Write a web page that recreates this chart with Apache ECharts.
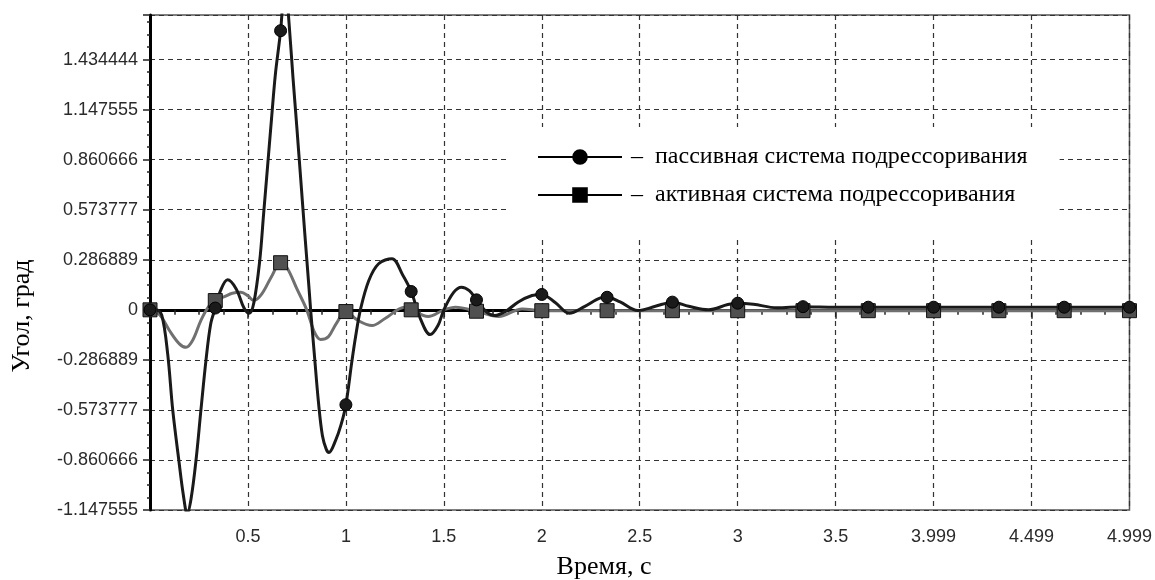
<!DOCTYPE html>
<html><head><meta charset="utf-8">
<script src="https://cdn.jsdelivr.net/npm/echarts@6/dist/echarts.min.js"></script>
<style>html,body{margin:0;padding:0;background:#fff}#c{width:1155px;height:580px}</style>
</head><body><div id="c"></div>
<script>
// ---- data ----
const seriesNames = ['пассивная система подрессоривания', 'активная система подрессоривания'];
const passiveT = [0, 0.03, 0.06, 0.09, 0.116, 0.147, 0.17, 0.19, 0.21, 0.235, 0.26, 0.286, 0.31, 0.3333, 0.36, 0.396, 0.44, 0.48, 0.506, 0.53, 0.56, 0.58, 0.60, 0.62, 0.64, 0.6667, 0.69, 0.71, 0.73, 0.75, 0.77, 0.79, 0.81, 0.82, 0.84, 0.86, 0.88, 0.90, 0.913, 0.947, 0.975, 1.0, 1.03, 1.05, 1.074, 1.117, 1.167, 1.235, 1.29, 1.3333, 1.38, 1.43, 1.47, 1.5, 1.55, 1.59, 1.63, 1.6667, 1.72, 1.76, 1.82, 1.88, 1.95, 2.0, 2.07, 2.14, 2.22, 2.3, 2.3333, 2.4, 2.49, 2.58, 2.6667, 2.75, 2.85, 2.95, 3.0, 3.08, 3.2, 3.3333, 3.5, 3.6667, 4.0, 4.3333, 4.6667, 5.0];
const passiveV = [0, 0.0, -0.03, -0.25, -0.574, -0.861, -1.06, -1.17, -1.08, -0.861, -0.574, -0.287, -0.08, 0.01, 0.11, 0.172, 0.12, 0.01, -0.02, 0.04, 0.28, 0.55, 0.82, 1.09, 1.35, 1.60, 1.90, 1.64, 1.33, 1.04, 0.74, 0.44, 0.15, 0.0, -0.27, -0.53, -0.72, -0.80, -0.818, -0.75, -0.66, -0.544, -0.30, -0.15, 0.0, 0.168, 0.264, 0.293, 0.20, 0.105, -0.05, -0.142, -0.09, 0.0, 0.10, 0.13, 0.11, 0.057, -0.015, -0.033, -0.005, 0.045, 0.082, 0.088, 0.04, -0.02, 0.02, 0.068, 0.072, 0.045, -0.004, 0.02, 0.044, 0.02, 0.0, 0.03, 0.038, 0.032, 0.012, 0.018, 0.015, 0.015, 0.015, 0.015, 0.015, 0.015];
const activeT = [0, 0.05, 0.10, 0.15, 0.184, 0.22, 0.26, 0.30, 0.3333, 0.38, 0.42, 0.464, 0.50, 0.53, 0.57, 0.62, 0.6667, 0.70, 0.75, 0.80, 0.84, 0.87, 0.91, 0.95, 1.0, 1.06, 1.133, 1.2, 1.30, 1.3333, 1.42, 1.5, 1.56, 1.6667, 1.78, 1.9, 2.0, 2.3333, 2.6667, 3.0, 3.3333, 3.6667, 4.0, 4.3333, 4.6667, 5.0];
const activeV = [0, -0.03, -0.12, -0.195, -0.215, -0.17, -0.06, 0.02, 0.053, 0.075, 0.095, 0.10, 0.08, 0.053, 0.09, 0.19, 0.270, 0.24, 0.12, 0.0, -0.13, -0.17, -0.155, -0.08, -0.01, -0.06, -0.09, -0.05, 0.015, 0.0, -0.038, 0.0, 0.015, -0.008, -0.038, 0.005, -0.005, -0.005, -0.005, -0.005, -0.005, -0.005, -0.005, -0.005, -0.005, -0.005];
const yTickLabels = ['-1.147555', '-0.860666', '-0.573777', '-0.286889', '0', '0.286889', '0.573777', '0.860666', '1.147555', '1.434444'];
const xTickLabels = ['', '0.5', '1', '1.5', '2', '2.5', '3', '3.5', '3.999', '4.499', '4.999'];
const yAxisTitle = 'Угол, град';
const xAxisTitle = 'Время, с';

// ---- chart ----
const yStep = 0.286889, yMin = -4 * yStep, yMax = 1.69;
const xStep = 0.5, xMin = 0, xMax = 5;
function isMarker(t) { const k = t * 3; return Math.abs(k - Math.round(k)) < 0.002; }
function buildData(ts, vs) {
  return ts.map((t, i) => isMarker(t) ? { value: [t, vs[i]] } : { value: [t, vs[i]], symbol: 'none' });
}
const chart = echarts.init(document.getElementById('c'), null, { renderer: 'canvas' });
const gridLine = { show: true, lineStyle: { color: '#333', type: [5, 4], width: 1.2 } };
chart.setOption({
  animation: false,
  backgroundColor: '#fff',
  grid: { left: 150, right: 23, top: 15, bottom: 70, show: true, borderColor: '#555', borderWidth: 1.5, backgroundColor: 'transparent' },
  xAxis: {
    type: 'value', min: xMin, max: xMax, interval: xStep,
    axisLine: { show: true, lineStyle: { color: '#000', width: 3 } },
    axisTick: { show: true, length: 9, lineStyle: { color: '#222', width: 1.5 } },
    minorTick: { show: true, splitNumber: 4, length: 5, lineStyle: { color: '#222', width: 1.5 } },
    splitLine: gridLine,
    axisLabel: { margin: 18, fontFamily: 'Liberation Sans', fontSize: 18, color: '#2a2a2a',
      formatter: v => { const i = Math.round((v - xMin) / xStep); return Math.abs(v - (xMin + i * xStep)) < 1e-6 ? (xTickLabels[i] || '') : ''; } }
  },
  yAxis: {
    type: 'value', min: yMin, max: yMax, interval: yStep,
    axisLine: { show: true, lineStyle: { color: '#000', width: 3 } },
    axisTick: { show: true, length: 7, lineStyle: { color: '#222', width: 1.5 } },
    minorTick: { show: true, splitNumber: 4, length: 3, lineStyle: { color: '#222', width: 1.5 } },
    splitLine: gridLine,
    axisLabel: { margin: 12, fontFamily: 'Liberation Sans', fontSize: 18, color: '#2a2a2a',
      formatter: v => { const i = Math.round((v - yMin) / yStep); return Math.abs(v - (yMin + i * yStep)) < 1e-4 ? (yTickLabels[i] || '') : ''; } }
  },
  legend: {
    orient: 'vertical', left: 510, top: 127,
    padding: [18, 32, 30, 27], backgroundColor: '#fff',
    itemWidth: 84, itemHeight: 17, itemGap: 14,
    textStyle: { fontFamily: 'Liberation Serif', fontSize: 24, color: '#000', padding: [8, 0, 0, 4] },
    formatter: n => '–  ' + n,
    data: [
      { name: seriesNames[0], itemStyle: { color: '#000', borderColor: '#000' }, lineStyle: { color: '#000', width: 2 } },
      { name: seriesNames[1], itemStyle: { color: '#000', borderColor: '#000' }, lineStyle: { color: '#000', width: 2 } }
    ]
  },
  series: [
    {
      name: seriesNames[1], type: 'line', smooth: 0.35, data: buildData(activeT, activeV),
      symbol: 'rect', symbolSize: 14, showSymbol: true, showAllSymbol: true,
      lineStyle: { color: '#707070', width: 3 },
      itemStyle: { color: '#505050', borderColor: '#111', borderWidth: 1 }
    },
    {
      name: seriesNames[0], type: 'line', smooth: 0.35, data: buildData(passiveT, passiveV),
      symbol: 'circle', symbolSize: 12, showSymbol: true, showAllSymbol: true,
      lineStyle: { color: '#1a1a1a', width: 3 },
      itemStyle: { color: '#1a1a1a', borderColor: '#000', borderWidth: 1 }
    }
  ],
  graphic: [
    { type: 'text', x: 22, y: 316, rotation: Math.PI / 2, style: { text: yAxisTitle, fontFamily: 'Liberation Serif', fontSize: 26, fill: '#000', align: 'center', verticalAlign: 'middle' } },
    { type: 'text', x: 604, y: 567, style: { text: xAxisTitle, fontFamily: 'Liberation Serif', fontSize: 26, fill: '#000', align: 'center', verticalAlign: 'middle' } }
  ]
});
</script></body></html>
